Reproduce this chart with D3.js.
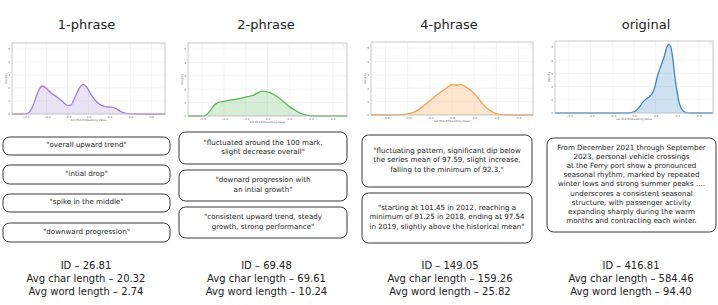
<!DOCTYPE html>
<html>
<head>
<meta charset="utf-8">
<script src="https://cdn.jsdelivr.net/npm/d3@7"></script>
<style>
    body { margin: 0; background: #fff; }
    text { font-family: "DejaVu Sans", sans-serif; }
</style>
</head>
<body>
<script>
//density panels + description boxes, drawn with d3

//titles of the four columns
var titles = ["1-phrase", "2-phrase", "4-phrase", "original"];

//axis ticks shared by the small density plots
var xTicks = [-0.6, -0.4, -0.2, 0.0, 0.2, 0.4, 0.6];
var yTicks = [0, 1, 2, 3, 4, 5];

//density curves: [embedding value, density]
var density1 = [[-0.73,0],[-0.62,0],[-0.58,0.05],[-0.54,0.45],[-0.50,1.3],[-0.47,1.9],[-0.44,2.15],[-0.40,1.95],[-0.35,1.55],[-0.30,1.3],[-0.25,0.98],[-0.20,0.65],[-0.17,0.68],[-0.13,1.25],[-0.09,1.95],[-0.05,2.28],[-0.02,2.1],[0.02,1.55],[0.07,1.0],[0.12,0.68],[0.17,0.55],[0.22,0.52],[0.26,0.42],[0.30,0.22],[0.35,0.06],[0.40,0.01],[0.45,0],[0.73,0]];
var density2 = [[-0.73,0],[-0.62,0],[-0.57,0.05],[-0.53,0.35],[-0.49,0.8],[-0.45,1.02],[-0.40,1.1],[-0.33,1.2],[-0.25,1.32],[-0.18,1.45],[-0.14,1.52],[-0.09,1.72],[-0.05,1.85],[0.0,1.8],[0.05,1.64],[0.10,1.38],[0.15,1.05],[0.20,0.7],[0.25,0.45],[0.30,0.22],[0.35,0.08],[0.40,0.02],[0.45,0],[0.73,0]];
var density3 = [[-0.73,0],[-0.55,0],[-0.45,0.03],[-0.40,0.09],[-0.35,0.2],[-0.30,0.4],[-0.25,0.72],[-0.20,1.08],[-0.15,1.4],[-0.10,1.72],[-0.05,2.02],[0.0,2.27],[0.04,2.24],[0.08,2.27],[0.12,2.12],[0.16,1.9],[0.20,1.6],[0.25,1.12],[0.30,0.62],[0.35,0.3],[0.40,0.11],[0.45,0.03],[0.5,0],[0.73,0]];
var density4 = [[-0.73,0],[-0.05,0],[0.0,0.08],[0.04,0.35],[0.08,0.8],[0.11,1.05],[0.14,1.22],[0.17,1.5],[0.19,1.9],[0.22,2.9],[0.25,3.6],[0.28,4.3],[0.30,4.9],[0.32,5.2],[0.34,5.0],[0.36,4.0],[0.38,2.6],[0.40,1.5],[0.42,0.7],[0.45,0.2],[0.48,0.03],[0.52,0],[0.73,0]];
var densities = [density1, density2, density3, density4];

//description texts, one list of lines per box
var boxes1 = [
    ['"overall upward trend"'],
    ['"intial drop"'],
    ['"spike in the middle"'],
    ['"downward progression"']
];
var boxes2 = [
    ['"fluctuated around the 100 mark,', 'slight decrease overall"'],
    ['"downard progression with', 'an intial growth"'],
    ['"consistent upward trend, steady', 'growth, strong performance"']
];
var boxes3 = [
    ['"fluctuating pattern, significant dip below', 'the series mean of 97.59, slight increase,', 'falling to the minimum of 92.3."'],
    ['"starting at 101.45 in 2012, reaching a', 'minimum of 91.25 in 2018, ending at 97.54', 'in 2019, slightly above the historical mean"']
];
var boxes4 = [
    ['From December 2021 through September', '2023, personal vehicle crossings', 'at the Ferry port show a pronounced', 'seasonal rhythm, marked by repeated', 'winter lows and strong summer peaks ....', 'underscores a consistent seasonal', 'structure, with passenger activity', 'expanding sharply during the warm', 'months and contracting each winter.']
];
var boxTexts = [boxes1, boxes2, boxes3, boxes4];

//summary numbers under each column
var idValues = ["26.81", "69.48", "149.05", "416.81"];
var charLengths = ["20.32", "69.61", "159.26", "584.46"];
var wordLengths = ["2.74", "10.24", "25.82", "94.40"];

(function(){

var width = 718,
    height = 305;

//layout of each column (pixel frames, not data)
var layout = [
    {title: 86.5, frame: [12, 43, 165, 114], boxX: [3, 170], boxY: [[137,155],[165,184],[194,212],[223,242]], stats: 86,
     line: "#a07fd3", fill: "rgba(160,127,211,0.22)"},
    {title: 266, frame: [188, 43, 347, 116], boxX: [179, 347], boxY: [[132,164],[170,201],[207,238]], stats: 266.5,
     line: "#5cb85c", fill: "rgba(92,184,92,0.25)"},
    {title: 449, frame: [371, 42, 533, 115], boxX: [362, 532], boxY: [[135,187],[193,243]], stats: 450,
     line: "#f7a04f", fill: "rgba(247,160,79,0.28)"},
    {title: 646, frame: [555, 41, 713, 113], boxX: [547, 716], boxY: [[138,232]], stats: 631,
     line: "#3d87c7", fill: "rgba(61,135,199,0.25)"}
];

var svg = d3.select("body")
    .append("svg")
    .attr("width", width)
    .attr("height", height);

svg.append("rect")
    .attr("width", width)
    .attr("height", height)
    .attr("fill", "#fff");

layout.forEach(function(col, i){
    //column title
    svg.append("text")
        .attr("x", col.title)
        .attr("y", 29)
        .attr("text-anchor", "middle")
        .attr("font-size", 13)
        .attr("fill", "#222")
        .text(titles[i]);

    setDensity(svg, col, densities[i]);
    setBoxes(svg, col, boxTexts[i]);
    setStats(svg, col, i);
});

//small density plot inside a frame
function setDensity(svg, col, data){
    var f = col.frame;

    var x = d3.scaleLinear()
        .domain([-0.73, 0.73])
        .range([f[0], f[2]]);

    var y = d3.scaleLinear()
        .domain([0, 5.45])
        .range([f[3], f[1]]);

    var g = svg.append("g");

    //grid lines
    g.selectAll(".gx")
        .data(xTicks)
        .enter()
        .append("line")
        .attr("x1", function(d){ return x(d); })
        .attr("x2", function(d){ return x(d); })
        .attr("y1", f[1])
        .attr("y2", f[3])
        .attr("stroke", "#ececec")
        .attr("stroke-width", 0.6);

    g.selectAll(".gy")
        .data(yTicks)
        .enter()
        .append("line")
        .attr("x1", f[0])
        .attr("x2", f[2])
        .attr("y1", function(d){ return y(d); })
        .attr("y2", function(d){ return y(d); })
        .attr("stroke", "#ececec")
        .attr("stroke-width", 0.6);

    var area = d3.area()
        .x(function(d){ return x(d[0]); })
        .y0(y(0))
        .y1(function(d){ return y(d[1]); })
        .curve(d3.curveMonotoneX);

    var line = d3.line()
        .x(function(d){ return x(d[0]); })
        .y(function(d){ return y(d[1]); })
        .curve(d3.curveMonotoneX);

    g.append("path")
        .datum(data)
        .attr("d", area)
        .attr("fill", col.fill);

    g.append("path")
        .datum(data)
        .attr("d", line)
        .attr("fill", "none")
        .attr("stroke", col.line)
        .attr("stroke-width", 1.3);

    //frame
    g.append("rect")
        .attr("x", f[0])
        .attr("y", f[1])
        .attr("width", f[2] - f[0])
        .attr("height", f[3] - f[1])
        .attr("fill", "none")
        .attr("stroke", "#c4c4c4")
        .attr("stroke-width", 0.9);

    //tiny legend mark in the corner
    g.append("rect")
        .attr("x", f[2] - 4)
        .attr("y", f[1] + 1.5)
        .attr("width", 2.5)
        .attr("height", 2.5)
        .attr("fill", "none")
        .attr("stroke", "#ddd")
        .attr("stroke-width", 0.4);

    //axes with tiny labels
    var xAxis = d3.axisBottom(x)
        .tickValues(xTicks)
        .tickSize(0)
        .tickPadding(2)
        .tickFormat(d3.format(".1f"));

    var yAxis = d3.axisLeft(y)
        .tickValues(yTicks)
        .tickSize(0)
        .tickPadding(2)
        .tickFormat(d3.format("d"));

    var gx = g.append("g")
        .attr("transform", "translate(0," + f[3] + ")")
        .call(xAxis);
    var gy = g.append("g")
        .attr("transform", "translate(" + f[0] + ",0)")
        .call(yAxis);

    [gx, gy].forEach(function(a){
        a.select(".domain").remove();
        a.selectAll("text")
            .attr("font-size", 2.8)
            .attr("font-family", "DejaVu Sans")
            .attr("fill", "#666");
    });

    g.append("text")
        .attr("x", (f[0] + f[2]) / 2)
        .attr("y", f[3] + 7)
        .attr("text-anchor", "middle")
        .attr("font-size", 2.8)
        .attr("fill", "#666")
        .text("1st PCA Embedding Value");

    g.append("text")
        .attr("transform", "translate(" + (f[0] - 5) + "," + ((f[1] + f[3]) / 2) + ") rotate(-90)")
        .attr("text-anchor", "middle")
        .attr("font-size", 2.8)
        .attr("fill", "#666")
        .text("Density");
};

//rounded boxes holding the descriptions
function setBoxes(svg, col, texts){
    var lineH = 9.2;

    texts.forEach(function(lines, j){
        var y0 = col.boxY[j][0],
            y1 = col.boxY[j][1];

        svg.append("rect")
            .attr("x", col.boxX[0])
            .attr("y", y0)
            .attr("width", col.boxX[1] - col.boxX[0])
            .attr("height", y1 - y0)
            .attr("rx", 6.5)
            .attr("ry", 6.5)
            .attr("fill", "#fff")
            .attr("stroke", "#222")
            .attr("stroke-width", 0.9);

        var cx = (col.boxX[0] + col.boxX[1]) / 2,
            cy = (y0 + y1) / 2 - 1,
            top = cy - (lines.length - 1) * lineH / 2;

        svg.selectAll(null)
            .data(lines)
            .enter()
            .append("text")
            .attr("x", cx)
            .attr("y", function(d, k){ return top + k * lineH; })
            .attr("dy", "0.35em")
            .attr("text-anchor", "middle")
            .attr("font-size", 7.1)
            .attr("fill", "#222")
            .text(function(d){ return d; });
    });
};

//summary lines under each column
function setStats(svg, col, i){
    var rows = [
        "ID \u2013 " + idValues[i],
        "Avg char length \u2013 " + charLengths[i],
        "Avg word length \u2013 " + wordLengths[i]
    ];

    svg.selectAll(null)
        .data(rows)
        .enter()
        .append("text")
        .attr("x", col.stats)
        .attr("y", function(d, k){ return 269 + k * 13; })
        .attr("text-anchor", "middle")
        .attr("font-size", 10)
        .attr("fill", "#222")
        .text(function(d){ return d; });
};

})();
</script>
</body>
</html>
